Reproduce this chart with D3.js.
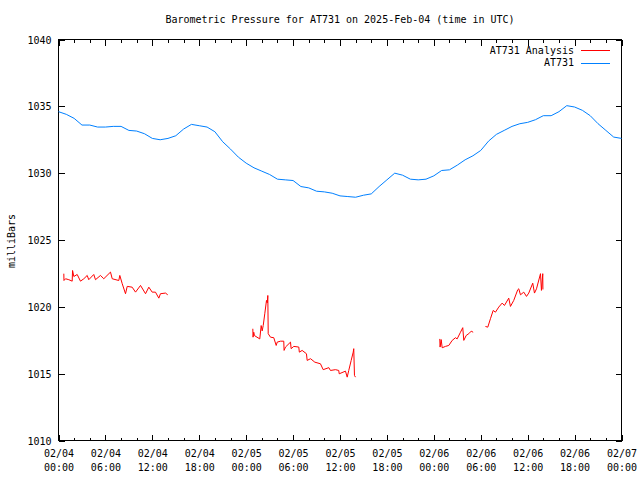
<!DOCTYPE html>
<html>
<head>
<meta charset="utf-8">
<script src="https://cdn.jsdelivr.net/npm/d3@7"></script>
<style>
  html, body { margin: 0; padding: 0; background: #fff; }
  svg { display: block; }
  text { font-family: "DejaVu Sans Mono", "Liberation Mono", monospace; font-size: 10px; fill: #000; }
</style>
</head>
<body>
<svg id="chart" width="640" height="480"></svg>
<script>
// ---------------- DATA ----------------
const titleText = "Barometric Pressure for AT731 on 2025-Feb-04 (time in UTC)";
const yLabel = "milliBars";
const seriesNames = ["AT731 Analysis", "AT731"];
const seriesColors = ["#ff0000", "#0080ff"];
const yTicks = [1010, 1015, 1020, 1025, 1030, 1035, 1040];
const startTime = "2025-02-04T00:00:00Z";
const endTime = "2025-02-07T00:00:00Z";

// AT731 observed: hour offset from start -> mbar (hourly readings)
const stationHours = [0,1,2,3,4,5,6,7,8,9,10,11,12,13,14,15,16,17,18,19,20,21,22,23,24,25,26,27,28,29,30,31,32,33,34,35,36,37,38,39,40,41,42,43,44,45,46,47,48,49,50,51,52,53,54,55,56,57,58,59,60,61,62,63,64,65,66,67,68,69,70,71,72];
const stationValues = [1034.6,1034.4,1034.1,1033.6,1033.6,1033.45,1033.45,1033.5,1033.5,1033.2,1033.15,1032.95,1032.6,1032.5,1032.6,1032.8,1033.3,1033.65,1033.55,1033.45,1033.1,1032.35,1031.8,1031.2,1030.75,1030.4,1030.15,1029.9,1029.55,1029.5,1029.45,1029.0,1028.9,1028.65,1028.6,1028.5,1028.3,1028.25,1028.2,1028.35,1028.45,1029.0,1029.5,1030.0,1029.85,1029.55,1029.5,1029.55,1029.8,1030.2,1030.25,1030.6,1031.0,1031.3,1031.7,1032.4,1032.9,1033.2,1033.5,1033.7,1033.8,1034.0,1034.3,1034.3,1034.6,1035.05,1034.95,1034.7,1034.3,1033.7,1033.2,1032.7,1032.6];

// AT731 Analysis: separate segments [hour offset, mbar]
const analysisSeg1 = [[0.68,1022.48],[0.7,1021.97],[0.9,1022.1],[1.32,1022.03],[1.75,1021.92],[1.8,1022.72],[1.96,1022.27],[2.39,1022.42],[2.81,1021.92],[3.24,1022.1],[3.67,1022.35],[3.87,1022.03],[4.51,1022.42],[4.73,1022.03],[5.37,1022.35],[5.79,1022.1],[6.65,1022.6],[6.87,1022.1],[7.71,1021.97],[7.84,1022.35],[8.15,1021.73],[8.57,1020.98],[8.79,1021.53],[9.42,1021.47],[9.85,1021.1],[10.49,1021.6],[11.13,1020.98],[11.55,1021.47],[11.98,1021.1],[12.4,1021.1],[12.83,1020.65],[13.04,1020.98],[13.68,1021.03],[13.97,1020.9]];
const analysisSeg2 = [[24.85,1018.36],[24.88,1017.73],[24.97,1018.1],[25.06,1017.85],[25.74,1017.6],[25.92,1018.6],[26.05,1018.2],[26.18,1018.6],[26.38,1019.48],[26.6,1020.48],[26.7,1020.3],[26.77,1020.85],[26.82,1017.99],[27.11,1017.73],[27.53,1017.69],[27.84,1017.11],[27.97,1017.36],[28.39,1017.43],[28.81,1017.43],[28.85,1016.74],[29.03,1016.99],[29.67,1017.36],[29.75,1016.87],[30.09,1017.04],[30.73,1016.99],[30.8,1016.61],[31.16,1016.74],[31.71,1016.49],[31.8,1015.99],[32.23,1016.12],[32.78,1015.86],[33.5,1015.74],[33.85,1015.3],[34.57,1015.45],[34.78,1015.24],[35.42,1015.3],[35.84,1015.24],[35.9,1014.99],[36.7,1015.19],[36.92,1014.74],[37.12,1015.24],[37.43,1015.99],[37.69,1016.61],[37.76,1016.87],[37.85,1014.87],[37.98,1014.74]];
const analysisSeg3 = [[48.76,1017.6],[48.8,1016.99],[48.94,1017.55],[49.07,1016.94],[49.49,1017.04],[49.91,1017.11],[50.35,1017.49],[50.77,1017.69],[50.98,1017.6],[51.41,1018.1],[51.7,1018.44],[51.83,1017.49],[52.14,1017.86],[52.47,1017.99],[52.78,1018.18],[53.03,1018.1]];
const analysisSeg4 = [[54.6,1018.53],[54.9,1018.48],[55.24,1019.11],[55.59,1019.73],[55.88,1019.6],[56.3,1019.98],[56.74,1020.28],[57.03,1020.1],[57.58,1020.65],[57.8,1020.03],[58.22,1020.48],[58.73,1021.28],[58.86,1021.35],[59.08,1020.9],[59.5,1021.1],[59.85,1020.78],[60.14,1021.03],[60.65,1021.77],[60.87,1021.03],[61.13,1021.35],[61.64,1022.48],[61.76,1021.23],[61.93,1022.48],[61.95,1021.3]];

// ---------------- CHART ----------------
const svg = d3.select("#chart");
const padL = 58, padR = 621, padT = 39, padB = 440;
const t0 = new Date(startTime), t1 = new Date(endTime);
const toDate = h => new Date(t0.getTime() + h * 3600e3);

const x = d3.scaleUtc().domain([t0, t1]).range([padL + 0.5, padR + 0.5]);
const y = d3.scaleLinear().domain([1010, 1040]).range([padB + 0.5, padT + 0.5]);

// Title
svg.append("text").attr("x", 340).attr("y", 19).attr("text-anchor", "middle")
  .attr("dominant-baseline", "central").text(titleText);

// Y label
svg.append("text").attr("transform", "translate(11,241) rotate(-90)")
  .attr("text-anchor", "middle").attr("dominant-baseline", "central").text(yLabel);

const fmtDate = d3.utcFormat("%m/%d"), fmtTime = d3.utcFormat("%H:%M");
const majorTicks = d3.utcHour.every(6).range(t0, new Date(t1.getTime() + 1));
const minorTicks = d3.utcHour.every(2).range(t0, new Date(t1.getTime() + 1));

// Bottom axis (minor + major, inward)
svg.append("g").attr("transform", `translate(0,${padB + 0.5})`)
  .call(d3.axisBottom(x).tickValues(minorTicks).tickSizeInner(-3).tickSizeOuter(0).tickFormat(""));
const gB = svg.append("g").attr("transform", `translate(0,${padB + 0.5})`)
  .call(d3.axisBottom(x).tickValues(majorTicks).tickSizeInner(-6).tickSizeOuter(0).tickFormat(""));
gB.selectAll(".tick text").remove();
gB.selectAll(".tick").each(function(d) {
  const t = d3.select(this).append("text").attr("text-anchor", "middle").attr("fill", "#000");
  t.append("tspan").attr("x", 0).attr("y", 13).attr("dominant-baseline", "central").text(fmtDate(d));
  t.append("tspan").attr("x", 0).attr("y", 27).attr("dominant-baseline", "central").text(fmtTime(d));
});
// Top axis mirror
svg.append("g").attr("transform", `translate(0,${padT + 0.5})`)
  .call(d3.axisTop(x).tickValues(minorTicks).tickSizeInner(-3).tickSizeOuter(0).tickFormat(""));
svg.append("g").attr("transform", `translate(0,${padT + 0.5})`)
  .call(d3.axisTop(x).tickValues(majorTicks).tickSizeInner(-6).tickSizeOuter(0).tickFormat(""));

// Left axis
const gL = svg.append("g").attr("transform", `translate(${padL + 0.5},0)`)
  .call(d3.axisLeft(y).tickValues(yTicks).tickSizeInner(-6).tickSizeOuter(0).tickFormat(d3.format("d")));
gL.selectAll(".tick text").attr("x", -7).attr("dy", null).attr("dominant-baseline", "central");
// Right axis
svg.append("g").attr("transform", `translate(${padR + 0.5},0)`)
  .call(d3.axisRight(y).tickValues(yTicks).tickSizeInner(-6).tickSizeOuter(0).tickFormat(""));

svg.selectAll(".domain").remove();
svg.selectAll(".tick line").attr("stroke", "#000").attr("shape-rendering", "crispEdges");
svg.selectAll("g").attr("font-family", null).attr("font-size", null);

// Frame
svg.append("rect").attr("x", padL + 0.5).attr("y", padT + 0.5)
  .attr("width", padR - padL).attr("height", padB - padT)
  .attr("fill", "none").attr("stroke", "#000").attr("shape-rendering", "crispEdges");

// Lines
const line = d3.line().x(d => x(toDate(d[0]))).y(d => y(d[1]));
const stationData = stationHours.map((h, i) => [h, stationValues[i]]);
svg.append("path").datum(stationData).attr("d", line)
  .attr("fill", "none").attr("stroke", seriesColors[1]).attr("stroke-width", 1);
[analysisSeg1, analysisSeg2, analysisSeg3, analysisSeg4].forEach(seg => {
  svg.append("path").datum(seg).attr("d", line)
    .attr("fill", "none").attr("stroke", seriesColors[0]).attr("stroke-width", 1);
});

// Legend
const legY = [50, 62.5];
seriesNames.forEach((name, i) => {
  svg.append("text").attr("x", 574).attr("y", legY[i]).attr("text-anchor", "end")
    .attr("dominant-baseline", "central").text(name);
  svg.append("line").attr("x1", 581).attr("x2", 610).attr("y1", Math.round(legY[i]) + 0.5).attr("y2", Math.round(legY[i]) + 0.5)
    .attr("stroke", seriesColors[i]).attr("stroke-width", 1).attr("shape-rendering", "crispEdges");
});
</script>
</body>
</html>
